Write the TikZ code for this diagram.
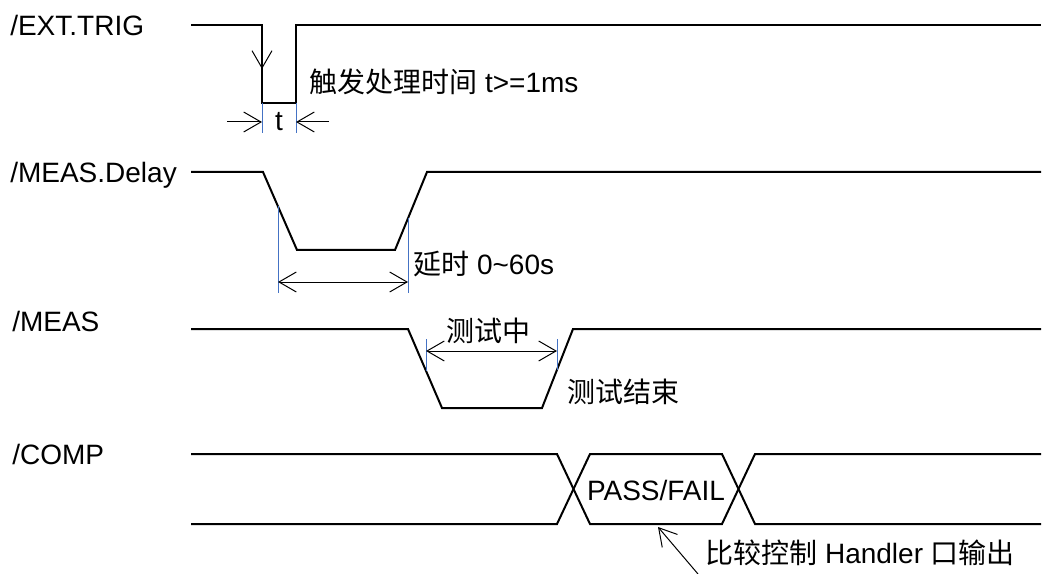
\documentclass[tikz,border=0pt]{standalone}
\usepackage{fontspec}
\setmainfont{Liberation Sans}
\newfontfamily\cjk{Noto Sans CJK SC}
\usetikzlibrary{arrows.meta}

\tikzset{
  wave/.style={line width=1.5pt, line join=miter},
  bluetick/.style={color={rgb,255:red,68;green,114;blue,196}, line width=0.75pt},
  dimto/.style={line width=0.75pt, -{Straight Barb[length=13pt,width=15pt]}},
  dimboth/.style={line width=0.75pt, {Straight Barb[length=13pt,width=15pt]}-{Straight Barb[length=13pt,width=15pt]}},
  txt/.style={inner sep=0pt, font=\fontsize{21}{25}\selectfont},
}

\begin{document}
\begin{tikzpicture}[x=0.75pt,y=0.75pt,yscale=-1]
\useasboundingbox (0,0) rectangle (1043,574);

% Signal names
\node [txt, anchor=base west] (lbltrig) at (10,36) {/EXT.TRIG};
\node [txt, anchor=base west] (lbldelay) at (10,183) {/MEAS.Delay};
\node [txt, anchor=base west] (lblmeas) at (12,331) {/MEAS};
\node [txt, anchor=base west] (lblcomp) at (12,464) {/COMP};

%Wave: /EXT.TRIG
\draw [wave] (191,25) -- (262,25) -- (262,103) -- (296,103) -- (296,25) -- (1041,25);
\draw [dimto] (262,35) -- (262,69);
\coordinate (tl) at (262,103);
\coordinate (tr) at (296,103);
\draw [bluetick] (tl) -- ++(0,30);
\draw [bluetick] (tr) -- ++(0,30);
\coordinate (tla) at (227,122);
\coordinate (tra) at (329,122);
\draw [dimto] (tla) -- (tl |- tla);
\draw [dimto] (tra) -- (tr |- tra);
% Text Node
\node [txt, anchor=base] (tlabel) at (279,131) {t};
\node [txt, anchor=base west] (trignote) at (309,93) {{\cjk 触发处理时间} t>=1ms};

%Wave: /MEAS.Delay
\draw [wave] (191,172) -- (263,172) -- (297,250) -- (395,250) -- (427,172) -- (1041,172);
\coordinate (dl) at (278,206);
\coordinate (dr) at (408,218);
\draw [bluetick] (dl) -- (278,293);
\draw [bluetick] (dr) -- (408,293);
\draw [dimboth] (278,282) -- (408,282);
% Text Node
\node [txt, anchor=base west] (delaynote) at (413,275) {{\cjk 延时} 0\char`~60s};

%Wave: /MEAS
\draw [wave] (191,329) -- (408,329) -- (442,408) -- (542,408) -- (573,329) -- (1041,329);
\coordinate (ml) at (426,339);
\coordinate (mr) at (557,339);
\draw [bluetick] (ml) -- (426,371);
\draw [bluetick] (mr) -- (557,370);
\draw [dimboth] (426,351) -- (557,351);
% Text Node
\node [txt, anchor=center] (measing) at (488,331) {\cjk 测试中};
\node [txt, anchor=west] (measend) at (567,392) {\cjk 测试结束};

%Wave: /COMP
\draw [wave] (191,454) -- (557,454) -- (590,524) -- (722,524) -- (755,454) -- (1041,454);
\draw [wave] (191,524) -- (557,524) -- (590,454) -- (722,454) -- (755,524) -- (1041,524);
% Text Node
\node [txt, anchor=base] (passfail) at (656,500) {PASS/FAIL};
\coordinate (cmpin) at (658,527);
\draw [dimto] (698,574) -- (cmpin);
\node [txt, anchor=base west] (cmpnote) at (705,563) {{\cjk 比较控制} Handler {\cjk 口输出}};

\end{tikzpicture}
\end{document}
